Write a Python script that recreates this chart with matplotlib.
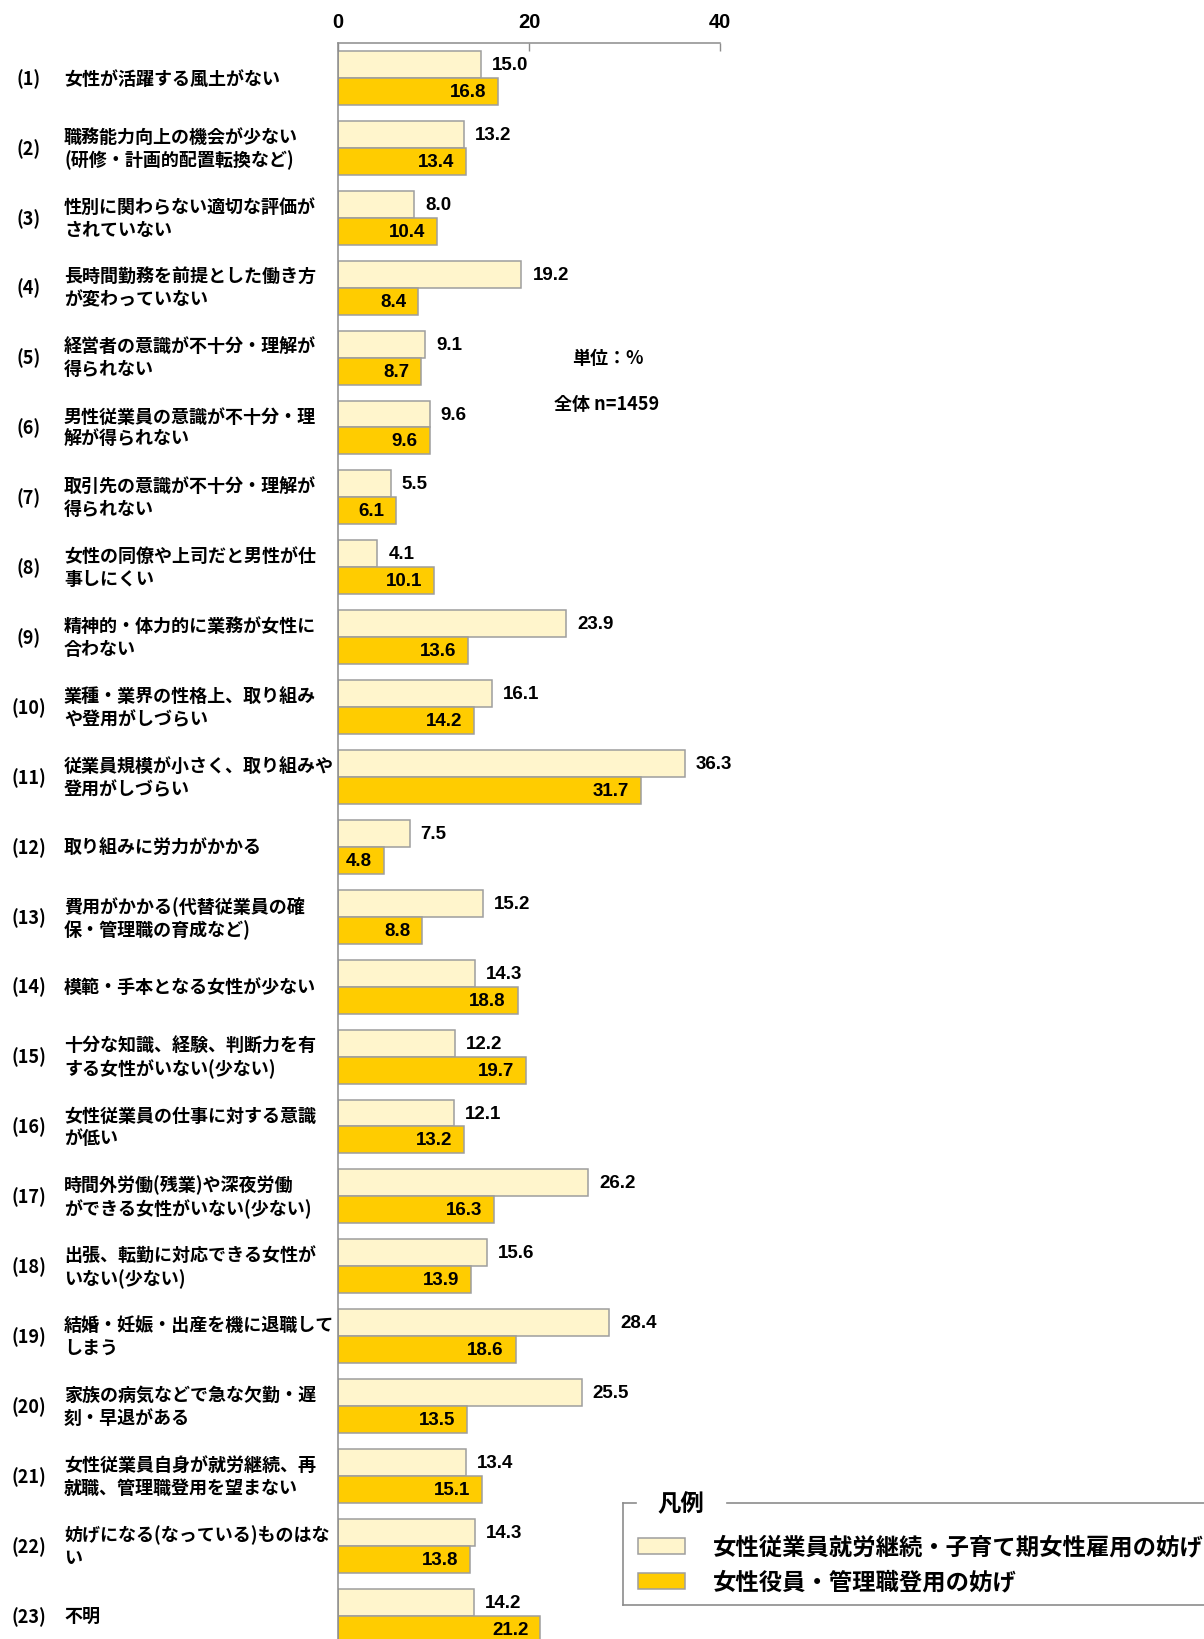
import matplotlib
matplotlib.use('Agg')
import matplotlib.pyplot as plt
from matplotlib.patches import Rectangle
from matplotlib.lines import Line2D
from matplotlib.transforms import blended_transform_factory

plt.rcParams['font.family'] = ['Noto Sans CJK JP', 'DejaVu Sans']

numbers = [f"({i})" for i in range(1, 24)]
categories = [
    "女性が活躍する風土がない",
    "職務能力向上の機会が少ない\n(研修・計画的配置転換など)",
    "性別に関わらない適切な評価が\nされていない",
    "長時間勤務を前提とした働き方\nが変わっていない",
    "経営者の意識が不十分・理解が\n得られない",
    "男性従業員の意識が不十分・理\n解が得られない",
    "取引先の意識が不十分・理解が\n得られない",
    "女性の同僚や上司だと男性が仕\n事しにくい",
    "精神的・体力的に業務が女性に\n合わない",
    "業種・業界の性格上、取り組み\nや登用がしづらい",
    "従業員規模が小さく、取り組みや\n登用がしづらい",
    "取り組みに労力がかかる",
    "費用がかかる(代替従業員の確\n保・管理職の育成など)",
    "模範・手本となる女性が少ない",
    "十分な知識、経験、判断力を有\nする女性がいない(少ない)",
    "女性従業員の仕事に対する意識\nが低い",
    "時間外労働(残業)や深夜労働\nができる女性がいない(少ない)",
    "出張、転勤に対応できる女性が\nいない(少ない)",
    "結婚・妊娠・出産を機に退職して\nしまう",
    "家族の病気などで急な欠勤・遅\n刻・早退がある",
    "女性従業員自身が就労継続、再\n就職、管理職登用を望まない",
    "妨げになる(なっている)ものはな\nい",
    "不明",
]
retention = [15.0, 13.2, 8.0, 19.2, 9.1, 9.6, 5.5, 4.1, 23.9, 16.1, 36.3, 7.5,
             15.2, 14.3, 12.2, 12.1, 26.2, 15.6, 28.4, 25.5, 13.4, 14.3, 14.2]
management = [16.8, 13.4, 10.4, 8.4, 8.7, 9.6, 6.1, 10.1, 13.6, 14.2, 31.7, 4.8,
              8.8, 18.8, 19.7, 13.2, 16.3, 13.9, 18.6, 13.5, 15.1, 13.8, 21.2]
series_names = ["女性従業員就労継続・子育て期女性雇用の妨げ", "女性役員・管理職登用の妨げ"]
xticks = [0, 20, 40]
unit_text = "単位：%"
n_text = "全体 n=1459"
legend_title = "凡例"

LIGHT = '#FFF5CC'
DARK = '#FFCC00'
EDGE = '#9E9E9E'
AXC = '#8C8C8C'
NUMFONT = ['Liberation Sans Narrow', 'Liberation Sans', 'DejaVu Sans']

W, H = 1204, 1640
fig = plt.figure(figsize=(W / 100, H / 100), dpi=100)
ax = fig.add_axes([338 / W, 0, (720 - 338) / W, 1 - 44 / H])

bh = 0.386
ypos = list(range(len(categories)))
y_light = [y for y in ypos]
y_dark = [y + bh for y in ypos]

ax.barh(y_light, retention, height=bh, color=LIGHT, edgecolor=EDGE, linewidth=1.1)
ax.barh(y_dark, management, height=bh, color=DARK, edgecolor=EDGE, linewidth=1.1)

ax.set_xlim(0, 40)
ax.set_ylim(22.525, -0.3076)

ax.xaxis.tick_top()
ax.set_xticks(xticks)
ax.set_xticklabels([str(t) for t in xticks])
ax.tick_params(axis='x', direction='in', length=6, pad=9, labelsize=14.5, color=AXC, width=1)
for lbl in ax.get_xticklabels():
    lbl.set_fontfamily(NUMFONT)
    lbl.set_fontweight('bold')
ax.set_yticks([])
for s in ['right', 'bottom']:
    ax.spines[s].set_visible(False)
for s in ['top', 'left']:
    ax.spines[s].set_color(AXC)
    ax.spines[s].set_linewidth(1.1)

for y, v in zip(y_light, retention):
    ax.annotate(f"{v:.1f}", xy=(v, y), xytext=(8, 0), textcoords='offset points',
                ha='left', va='center', fontsize=13.5, family=NUMFONT, fontweight='bold')
for y, v in zip(y_dark, management):
    ax.annotate(f"{v:.1f}", xy=(v, y), xytext=(-8.5, 0), textcoords='offset points',
                ha='right', va='center', fontsize=13.5, family=NUMFONT, fontweight='bold')

tr = blended_transform_factory(fig.transFigure, ax.transData)
for y, num, cat in zip(ypos, numbers, categories):
    yc = y + bh / 2
    ax.text(29 / W, yc, num, transform=tr, ha='center', va='center', fontsize=13,
            fontweight='bold', clip_on=False)
    ax.text(64 / W, yc, cat, transform=tr, ha='left', va='center', fontsize=13,
            fontweight='bold', linespacing=1.25, clip_on=False)

fig.text(572 / W, 1 - 358 / H, unit_text, ha='left', va='center', fontsize=13, fontweight='bold')
fig.text(554 / W, 1 - 404 / H, n_text, ha='left', va='center', fontsize=13, fontweight='bold')

# legend box
def fx(px):
    return px / W

def fy(py):
    return 1 - py / H

frame = [((623, 1504), (623, 1606)), ((623, 1606), (1204, 1606)),
         ((623, 1504), (636, 1504)), ((727, 1504), (1204, 1504))]
for (x0, y0), (x1, y1) in frame:
    fig.add_artist(Line2D([fx(x0), fx(x1)], [fy(y0), fy(y1)], transform=fig.transFigure,
                          color=AXC, linewidth=1.2))
fig.text(fx(657), fy(1504), legend_title, ha='left', va='center', fontsize=16.8, fontweight='bold')
for (name, col, yc) in [(series_names[0], LIGHT, 1547), (series_names[1], DARK, 1582)]:
    fig.add_artist(Rectangle((fx(638), fy(yc + 8)), fx(47), 16 / H, transform=fig.transFigure,
                             facecolor=col, edgecolor=EDGE, linewidth=1.1))
    fig.text(fx(713), fy(yc), name, ha='left', va='center', fontsize=16.8, fontweight='bold')

fig.savefig('out.png', dpi=100)
